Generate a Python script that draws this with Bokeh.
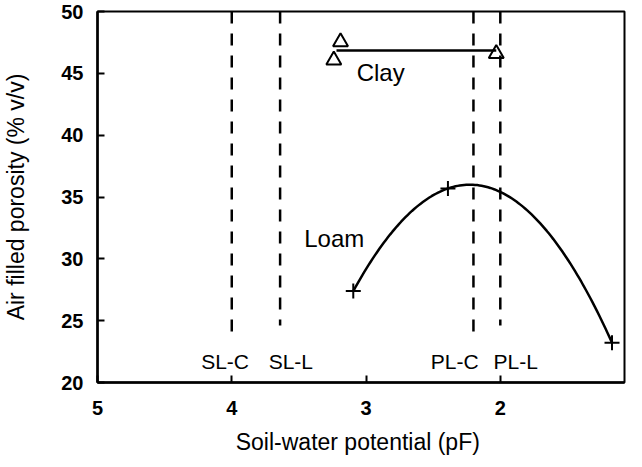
import numpy as np
from bokeh.plotting import figure
from bokeh.models import Range1d, FixedTicker
from bokeh.core.properties import value
from bokeh.embed import file_html
from bokeh.resources import INLINE

# ---- data ----
clay_pf = [3.19, 3.24, 2.03]
clay_afp = [47.55, 46.06, 46.6]
clay_line_pf = [3.22, 2.03]
clay_line_afp = [46.85, 46.85]

loam_pf = [3.095, 2.39, 1.168]
loam_afp = [27.39, 35.69, 23.22]

limit_pf = [4.0, 3.64, 2.20, 2.0]
limit_top = [50, 50, 50, 50]
limit_bottom = [23.4, 24.6, 23.4, 24.6]
limit_labels = ["SL-C", "SL-L", "PL-C", "PL-L"]
limit_label_pf = [4.05, 3.56, 2.34, 1.885]
limit_label_afp = [21.7, 21.7, 21.7, 21.7]

series_labels = ["Clay", "Loam"]
series_label_pf = [3.07, 3.46]
series_label_afp = [45.07, 31.65]

x_ticks = [5, 4, 3, 2, 1]
y_ticks = [20, 25, 30, 35, 40, 45, 50]

FONT = "Liberation Sans"

p = figure(width=626, height=459,
           x_range=Range1d(5, 1.075), y_range=Range1d(20, 50),
           output_backend="svg", toolbar_location=None,
           min_border_left=89, min_border_right=2,
           min_border_top=11, min_border_bottom=77)
p.xgrid.visible = False
p.ygrid.visible = False
p.outline_line_color = "black"
p.outline_line_width = 2
p.outline_line_alpha = 1
p.background_fill_color = "white"
p.border_fill_color = "white"

p.xaxis.ticker = FixedTicker(ticks=x_ticks)
p.yaxis.ticker = FixedTicker(ticks=y_ticks)
p.xaxis.axis_label = "Soil-water potential  (pF)"
p.yaxis.axis_label = "Air filled porosity (% v/v)"
for ax in (p.xaxis, p.yaxis):
    ax.axis_line_width = 2.5
    ax.axis_line_color = "black"
    ax.major_tick_line_width = 2
    ax.major_tick_line_color = "black"
    ax.major_tick_in = 7
    ax.major_tick_out = 0
    ax.minor_tick_line_color = None
    ax.major_label_text_font = FONT
    ax.major_label_text_font_style = "bold"
    ax.major_label_text_font_size = "20px"
    ax.major_label_text_color = "black"
    ax.axis_label_text_font = FONT
    ax.axis_label_text_font_style = "normal"
    ax.axis_label_text_color = "black"
p.xaxis.major_label_standoff = 18
p.yaxis.major_label_standoff = 14
p.xaxis.axis_label_text_font_size = "23px"
p.yaxis.axis_label_text_font_size = "23px"
p.xaxis.axis_label_standoff = 11
p.yaxis.axis_label_standoff = 29

# dashed limit lines
p.segment(x0=limit_pf, y0=limit_top, x1=limit_pf, y1=limit_bottom,
          line_color="black", line_width=2.5, line_dash="12 10")
p.text(x=limit_label_pf, y=limit_label_afp, text=limit_labels,
       text_font=value(FONT), text_font_size="21px", text_color="black",
       text_align="center", text_baseline="middle")

# clay
p.line(clay_line_pf, clay_line_afp, line_color="black", line_width=2.5)
p.scatter(clay_pf, clay_afp, marker="triangle", size=15,
          fill_color=None, line_color="black", line_width=2)

# loam trend (2nd order polynomial fit of the loam points)
coef = np.polyfit(loam_pf, loam_afp, 2)
xs = np.linspace(min(loam_pf), max(loam_pf), 120)
p.line(xs, np.polyval(coef, xs), line_color="black", line_width=2.5)
p.scatter(loam_pf, loam_afp, marker="cross", size=15,
          line_color="black", line_width=2)

p.text(x=series_label_pf, y=series_label_afp, text=series_labels,
       text_font=value(FONT), text_font_size="24px", text_color="black",
       text_align="left", text_baseline="middle")

open("out.html", "w").write(file_html(p, INLINE))
